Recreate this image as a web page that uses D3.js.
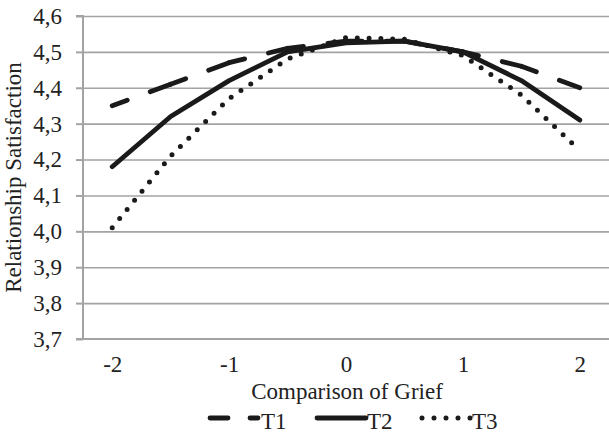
<!DOCTYPE html>
<html><head><meta charset="utf-8">
<script src="https://cdn.jsdelivr.net/npm/d3@7"></script>
<style>
body{margin:0;background:#fff}
text{font-family:"Liberation Serif","Times New Roman",serif;fill:#222}
</style>
</head><body>
<svg id="c" width="609" height="435"></svg>
<script>
// ---- data ----
const categories = ["-2","-1.5","-1","-0.5","0","0.5","1","1.5","2"];
const xTickLabels = ["-2","-1","0","1","2"];
const yTicks = [3.7,3.8,3.9,4.0,4.1,4.2,4.3,4.4,4.5,4.6];
const seriesNames = ["T1","T2","T3"];
const t1 = [4.35,4.41,4.47,4.51,4.53,4.53,4.50,4.46,4.40];
const t2 = [4.18,4.32,4.42,4.50,4.525,4.53,4.50,4.42,4.31];
const t3 = [4.01,4.21,4.37,4.48,4.54,4.535,4.49,4.38,4.225];
const xTitle = "Comparison of Grief";
const yTitle = "Relationship Satisfaction";

// ---- layout ----
const svg = d3.select("#c");
const L = 83, R = 609, T = 16, B = 339;
const FS = 23;
const x = d3.scalePoint().domain(categories).range([L, R]).padding(0.5);
const y = d3.scaleLinear().domain([3.7, 4.6]).range([B, T]);
const grey = "#a3a3a3";
const ink = "#1a1a1a";

// gridlines
svg.append("g")
  .attr("transform", `translate(${L},0)`)
  .call(d3.axisLeft(y).tickValues(yTicks.slice(1)).tickSize(-(R - L)).tickFormat(""))
  .call(g => g.select(".domain").remove())
  .call(g => g.selectAll("line").attr("stroke", grey).attr("stroke-width", 1.6));

// y axis
const fmt = d => d3.format(".1f")(d).replace(".", ",");
svg.append("g")
  .attr("transform", `translate(${L},0)`)
  .call(d3.axisLeft(y).tickValues(yTicks).tickFormat(fmt).tickSize(7).tickPadding(14))
  .call(g => g.select(".domain").attr("stroke", grey).attr("stroke-width", 2).attr("d", `M-7,${T}H0V${B}H-7`))
  .call(g => g.selectAll(".tick line").attr("stroke", grey).attr("stroke-width", 2))
  .call(g => g.selectAll("text").attr("font-size", FS).attr("font-family", "Liberation Serif").attr("fill", "#222"));

// x axis
svg.append("g")
  .attr("transform", `translate(0,${B})`)
  .call(d3.axisBottom(x).tickValues(xTickLabels).tickSize(0).tickPadding(17))
  .call(g => g.select(".domain").attr("stroke", grey).attr("stroke-width", 2).attr("d", `M${L},0H${R}`))
  .call(g => g.selectAll("text").attr("font-size", FS).attr("font-family", "Liberation Serif").attr("fill", "#222"));

// titles
svg.append("text").attr("x", 347).attr("y", 399).attr("text-anchor", "middle")
  .attr("font-size", FS).text(xTitle);
svg.append("text").attr("transform", `translate(21,${(T + B) / 2}) rotate(-90)`)
  .attr("text-anchor", "middle").attr("font-size", FS).text(yTitle);

// lines
const line = d3.line().x((d, i) => x(categories[i])).y(d => y(d));
const W = 4.8;
const dashPattern = "16,24.5,300";

// T1 dashed, pattern restarts at every point
const segs = d3.range(t1.length - 1).map(i => [i, i + 1]);
svg.append("g").selectAll("path").data(segs).join("path")
  .attr("d", s => `M${x(categories[s[0]])},${y(t1[s[0]])}L${x(categories[s[1]])},${y(t1[s[1]])}`)
  .attr("fill", "none").attr("stroke", ink).attr("stroke-width", W)
  .attr("stroke-linecap", "round").attr("stroke-dasharray", dashPattern);

// T2 solid
svg.append("path").attr("d", line(t2)).attr("fill", "none").attr("stroke", ink)
  .attr("stroke-width", W).attr("stroke-linecap", "round").attr("stroke-linejoin", "round");

// T3 round dots
svg.append("path").attr("d", line(t3)).attr("fill", "none").attr("stroke", ink)
  .attr("stroke-width", 5).attr("stroke-linecap", "round").attr("stroke-dasharray", "0,11.8");

// legend
const ly = 418;
const lg = svg.append("g");
lg.append("path").attr("d", `M210,${ly}H258`).attr("stroke", ink).attr("stroke-width", W)
  .attr("stroke-linecap", "round").attr("stroke-dasharray", "18,22,300").attr("fill", "none");
lg.append("path").attr("d", `M317,${ly}H366`).attr("stroke", ink).attr("stroke-width", W)
  .attr("stroke-linecap", "round").attr("fill", "none");
lg.append("path").attr("d", `M422,${ly}H471`).attr("stroke", ink).attr("stroke-width", 5)
  .attr("stroke-linecap", "round").attr("stroke-dasharray", "0,12").attr("fill", "none");
const lx = [261, 367, 472];
lg.selectAll("text").data(seriesNames).join("text")
  .attr("x", (d, i) => lx[i]).attr("y", 429).attr("font-size", FS).text(d => d);
</script>
</body></html>
